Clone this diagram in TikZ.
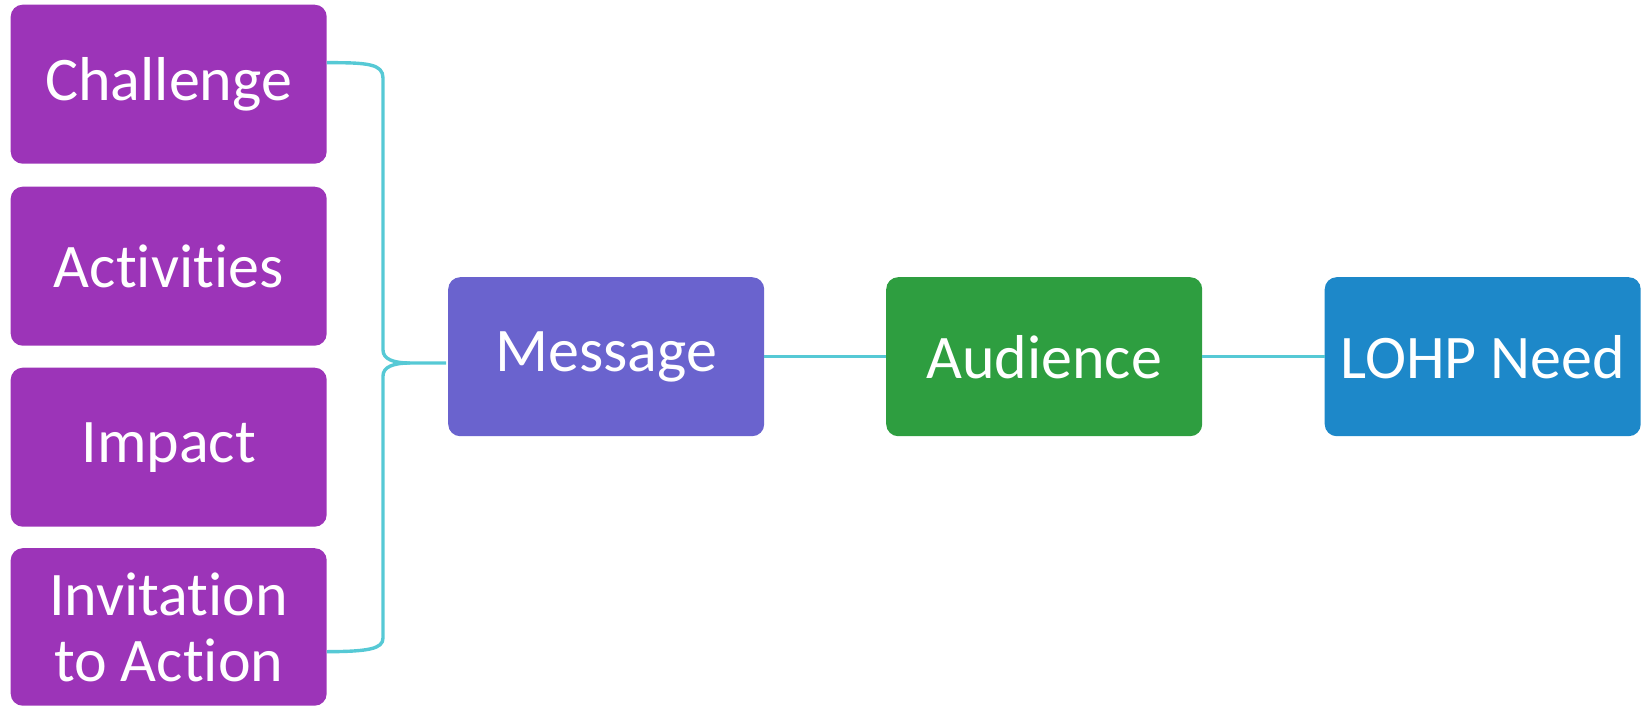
\documentclass[tikz,border=0pt]{standalone}
\usepackage{fontspec}
\setmainfont{Carlito}[Ligatures=NoCommon]
\definecolor{topicc}{HTML}{9C34B8}
\definecolor{msgc}{HTML}{6A63CE}
\definecolor{audc}{HTML}{2E9E40}
\definecolor{needc}{HTML}{1D88C9}
\definecolor{linkc}{HTML}{56C9D5}
\begin{document}
\begin{tikzpicture}[x=1pt,y=-1pt,
  box/.style={rounded corners=12pt, minimum width=316pt, minimum height=159pt,
    inner sep=0pt, text=white, align=center, anchor=north west,
    font=\fontsize{62}{66}\selectfont},
  topic/.style={box, fill=topicc},
  link/.style={draw=linkc, line width=3.4pt, line join=round}]
\useasboundingbox (0,0) rectangle (1641,706);

% left column of topics
\node[topic] (ch)  at (10.5,4.5)   {Challenge};
\node[topic] (act) at (10.5,186.5) {Activities};
\node[topic] (imp) at (10.5,367.5) {Impact};
\node[topic, minimum height=157.5pt] (inv) at (10.5,548) {Invitation\\to Action};

% main chain
\node[box, fill=msgc]  (msg)  at (448,277)  {Message};
\node[box, fill=audc]  (aud)  at (886,277)  {Audience};
\node[box, fill=needc] (need) at (1324.5,277) {LOHP Need};

\draw[link] (msg.east) -- (aud.west);
\draw[link] (aud.east) -- (need.west);

% curly brace gathering the topics into the message
\coordinate (mid) at (410,363);
\coordinate (tip) at (446,363);
\draw[link] ([yshift=21.5pt]ch.east) .. controls (368,62.5) and (383,64) .. (383,78)
  -- (383,350) .. controls (383,359) and (393,363) .. (mid) -- (tip);
\draw[link] ([yshift=-24.75pt]inv.east) .. controls (368,651.5) and (383,649) .. (383,638)
  -- (383,376) .. controls (383,367) and (393,363) .. (mid);
\end{tikzpicture}
\end{document}
